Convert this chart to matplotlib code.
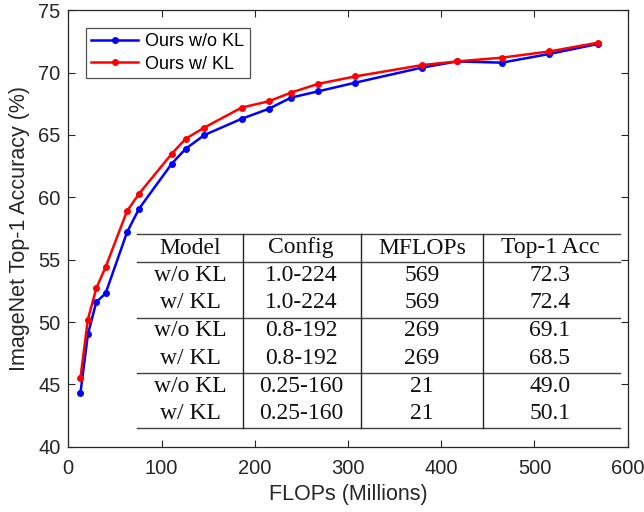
import matplotlib
matplotlib.use("Agg")
import matplotlib.pyplot as plt

# ---- data ----
flops_wo = [13, 21, 30, 40, 63, 76, 111, 126, 146, 186, 215, 239, 268, 308, 379, 417, 465, 516, 568]
acc_wo = [44.3, 49.0, 51.6, 52.3, 57.2, 59.1, 62.7, 63.9, 65.0, 66.3, 67.1, 68.0, 68.5, 69.2, 70.4, 70.9, 70.8, 71.5, 72.3]
flops_w = [13, 21, 30, 40, 63, 76, 111, 126, 146, 186, 215, 239, 268, 308, 379, 417, 465, 516, 568]
acc_w = [45.5, 50.2, 52.7, 54.4, 58.9, 60.3, 63.5, 64.7, 65.6, 67.2, 67.7, 68.4, 69.1, 69.7, 70.6, 70.9, 71.2, 71.7, 72.4]

legend_labels = ["Ours w/o KL", "Ours w/ KL"]

table_header = ["Model", "Config", "MFLOPs", "Top-1 Acc"]
table_models = ["w/o KL", "w/ KL", "w/o KL", "w/ KL", "w/o KL", "w/ KL"]
table_configs = ["1.0-224", "1.0-224", "0.8-192", "0.8-192", "0.25-160", "0.25-160"]
table_mflops = ["569", "569", "269", "269", "21", "21"]
table_acc = ["72.3", "72.4", "69.1", "68.5", "49.0", "50.1"]

x_ticks = [0, 100, 200, 300, 400, 500, 600]
y_ticks = [40, 45, 50, 55, 60, 65, 70, 75]

# ---- figure ----
W, H = 644, 512
fig = plt.figure(figsize=(W / 100, H / 100), dpi=100)
L, R, B, T = 68.3, 627.7, 446.7, 10.3
ax = fig.add_axes([L / W, 1 - B / H, (R - L) / W, (B - T) / H])

sans = "Liberation Sans"
serif = "Liberation Serif"

ax.plot(flops_wo, acc_wo, color="#0000ff", lw=1.8, marker="o", ms=4, label=legend_labels[0], zorder=3)
ax.plot(flops_w, acc_w, color="#ff0000", lw=1.8, marker="o", ms=4, label=legend_labels[1], zorder=4)

ax.set_xlim(0, 600)
ax.set_ylim(40, 75)
ax.set_xticks(x_ticks)
ax.set_yticks(y_ticks)
ax.tick_params(direction="in", top=True, right=True, length=5, width=0.8,
               labelsize=14.5, colors="#262626")
ax.tick_params(axis="x", pad=8.5)
ax.tick_params(axis="y", pad=5.5)
for lab in ax.get_xticklabels() + ax.get_yticklabels():
    lab.set_fontfamily(sans)
for s in ax.spines.values():
    s.set_color("#262626")
    s.set_linewidth(0.9)

ax.set_xlabel("FLOPs (Millions)", fontsize=15.5, family=sans, color="#262626", labelpad=4.5)
ax.set_ylabel("ImageNet Top-1 Accuracy (%)", fontsize=15.5, family=sans, color="#262626", labelpad=6)

leg = ax.legend(loc="upper left", bbox_to_anchor=(0.031, 0.96), prop={"family": sans, "size": 13},
                frameon=True, fancybox=False, edgecolor="#262626", borderpad=0.3,
                handlelength=2.6, handletextpad=0.4, labelspacing=0.3, borderaxespad=0)
leg.get_frame().set_linewidth(0.9)

# ---- inset table (axes-fraction layout) ----
def fx(px):
    return (px - L) / (R - L)

def fy(py):
    return (B - py) / (B - T)

tr = ax.transAxes
x_left, x_right = fx(136.7), fx(620)
hlines = [234.3, 261.7, 317.7, 373.3, 427.7]
vlines = [242.7, 361, 483.3]
for py in hlines:
    ax.plot([x_left, x_right], [fy(py), fy(py)], transform=tr, color="#404040", lw=1.0, zorder=5)
for px in vlines:
    ax.plot([fx(px), fx(px)], [fy(hlines[0]), fy(hlines[-1])], transform=tr, color="#262626", lw=1.0, zorder=5)

col_x = [190, 301, 422, 550]
row_y = [248, 275.5, 303, 331, 358.5, 387, 413.5]
for c, txt in enumerate(table_header):
    ax.text(fx(col_x[c]), fy(row_y[0]), txt, transform=tr, ha="center", va="center",
            family=serif, fontsize=17, color="#111111", zorder=6)
for r in range(len(table_models)):
    vals = [table_models[r], table_configs[r], table_mflops[r], table_acc[r]]
    for c, txt in enumerate(vals):
        ax.text(fx(col_x[c]), fy(row_y[r + 1]), txt, transform=tr, ha="center", va="center",
                family=serif, fontsize=17, color="#111111", zorder=6)

fig.savefig("out.png", dpi=100)
